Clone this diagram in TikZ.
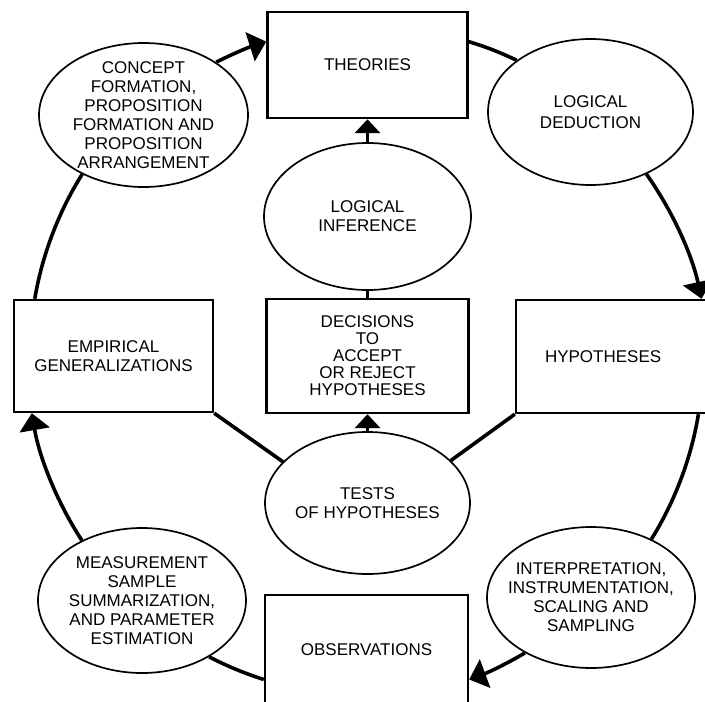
\documentclass[tikz,border=0pt]{standalone}
\usepackage{fontspec}
\setmainfont{Liberation Sans}
\usetikzlibrary{shapes.geometric,arrows.meta}
\begin{document}
\begin{tikzpicture}[x=1pt,y=1pt,
  every node/.style={font=\fontsize{17}{19}\selectfont, align=center},
  box/.style={draw, rectangle, line width=2.4pt, inner sep=4pt},
  oval/.style={draw, ellipse, line width=1.7pt, inner sep=-40pt},
  ring/.style={line width=3.6pt, looseness=0.85},
  ringarrow/.style={ring, -{Triangle[length=17pt,width=30pt]}},
  link/.style={line width=3.6pt},
  linkarrow/.style={link, -{Triangle[length=14pt,width=25pt]}}]

\useasboundingbox (0,0) rectangle (705,-702);
\fill[white] (0,0) rectangle (705,-702);
\clip (0,0) rectangle (705,-702);

% stages of the cycle
\node[box, minimum width=200pt, minimum height=106pt] (theories) at (367.5,-65) {THEORIES};
\node[oval, minimum width=209pt, minimum height=144pt] (concept) at (143.5,-115)
  {CONCEPT\\FORMATION,\\PROPOSITION\\FORMATION AND\\PROPOSITION\\ARRANGEMENT};
\node[oval, minimum width=205pt, minimum height=146pt, font=\fontsize{17}{21}\selectfont]
  (deduction) at (590.5,-112) {LOGICAL\\DEDUCTION};
\node[oval, minimum width=207pt, minimum height=147pt] (inference) at (367.5,-216.5)
  {LOGICAL\\INFERENCE};
\node[box, minimum width=199pt, minimum height=112pt] (empirical) at (113.5,-356)
  {EMPIRICAL\\GENERALIZATIONS};
\node[box, minimum width=202pt, minimum height=114pt, font=\fontsize{17}{17}\selectfont]
  (decisions) at (367.5,-356) {DECISIONS\\TO\\ACCEPT\\OR REJECT\\HYPOTHESES};
\node[box, minimum height=113pt, text width=142pt, inner xsep=29pt, align=left]
  (hypotheses) at (616,-356.5) {HYPOTHESES};
\node[oval, minimum width=205pt, minimum height=142pt] (tests) at (367.5,-503)
  {TESTS\\OF HYPOTHESES};
\node[oval, minimum width=208pt, minimum height=145pt] (measurement) at (142,-600.5)
  {MEASUREMENT\\SAMPLE\\SUMMARIZATION,\\AND PARAMETER\\ESTIMATION};
\node[oval, minimum width=208pt, minimum height=141pt] (interpretation) at (591,-597.5)
  {INTERPRETATION,\\INSTRUMENTATION,\\SCALING AND\\SAMPLING};
\node[box, minimum width=203pt, minimum height=110pt] (observations) at (366.5,-650)
  {OBSERVATIONS};

% outer ring, running clockwise
\draw[ringarrow] (concept.36) to[bend left=4.7] (theories.167.6);
\draw[ring] (theories.13) to[bend left=4.7] (deduction.145.4);
\draw[ringarrow] (deduction.312.4) to[bend left=11.5] (hypotheses.34.9);
\draw[ring] (hypotheses.325.1) to[bend left=11.3] (interpretation.44.8);
\draw[ringarrow] (interpretation.220.2) to[bend left=5.2] (observations.344.6);
\draw[ring] (observations.196.5) to[bend left=5.1] (measurement.320.3);
\draw[ringarrow] (measurement.135.7) to[bend left=11.7] (empirical.215);
\draw[ring] (empirical.144.2) to[bend left=11.3] (concept.224.8);

% inner links
\draw[link] (empirical.south east) -- (tests.154.6);
\draw[link] (hypotheses.south west) -- (tests.27.8);
\draw[linkarrow] (tests.north) -- (decisions.south);
\draw[link] (decisions.north) -- (inference.south);
\draw[linkarrow] (inference.north) -- (theories.south);
\end{tikzpicture}
\end{document}
